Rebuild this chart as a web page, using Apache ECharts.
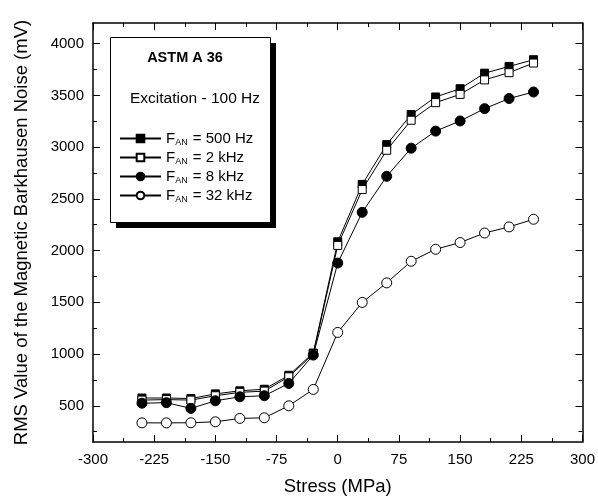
<!DOCTYPE html>
<html>
<head>
<meta charset="utf-8">
<script src="https://cdn.jsdelivr.net/npm/echarts@6/dist/echarts.min.js"></script>
<style>html,body{margin:0;padding:0;background:#fff;}#c{width:598px;height:502px;}</style>
</head>
<body>
<div id="c"></div>
<script>
var stress = [-240, -210, -180, -150, -120, -90, -60, -30, 0, 30, 60, 90, 120, 150, 180, 210, 240];
var f500 = [575, 575, 570, 615, 645, 660, 795, 1010, 2085, 2640, 3025, 3315, 3485, 3565, 3715, 3780, 3845];
var f2k  = [555, 560, 555, 597, 630, 642, 780, 1000, 2050, 2590, 2970, 3260, 3430, 3510, 3650, 3720, 3813];
var f8k  = [525, 530, 475, 548, 587, 597, 716, 990, 1880, 2370, 2718, 2990, 3155, 3253, 3372, 3470, 3533];
var f32k = [335, 335, 336, 345, 378, 384, 500, 658, 1209, 1499, 1688, 1897, 2013, 2078, 2170, 2229, 2303];
var seriesNames = ['500 Hz', '2 kHz', '8 kHz', '32 kHz'];
var yMajor = [500, 1000, 1500, 2000, 2500, 3000, 3500, 4000];
var yMinor = [250, 750, 1250, 1750, 2250, 2750, 3250, 3750];

var FONT = "'Liberation Sans', Arial, Helvetica, sans-serif";
function pairs(ys) { return stress.map(function (x, i) { return [x, ys[i]]; }); }

var chart = echarts.init(document.getElementById('c'), null, {renderer: 'canvas'});
var yBase = {type: 'value', min: 150, max: 4200, splitLine: {show: false}};
function yAx(pos, vals, len, labels, line) {
  return Object.assign({}, yBase, {
    position: pos,
    axisLine: {show: line, onZero: false, lineStyle: {color: '#000', width: 1.5}},
    axisTick: {show: true, inside: true, length: len, customValues: vals, lineStyle: {color: '#000', width: 1}},
    axisLabel: labels ? {show: true, customValues: vals, color: '#000', fontSize: 15, fontFamily: FONT, margin: 9,
      formatter: function (v) { return String(v); }} : {show: false}
  });
}
var yAxes = [
  Object.assign(yAx('left', yMajor, 7, true, true), {
    name: 'RMS Value of the Magnetic Barkhausen Noise (mV)', nameLocation: 'middle', nameGap: 62,
    nameTextStyle: {color: '#000', fontSize: 18.5, fontFamily: FONT}
  }),
  yAx('left', yMinor, 4, false, false),
  yAx('right', yMajor, 7, false, true),
  yAx('right', yMinor, 4, false, false)
];
function xAx(pos, labels) {
  return {
    type: 'value', position: pos, min: -300, max: 300, interval: 75,
    splitLine: {show: false},
    axisLine: {show: true, onZero: false, lineStyle: {color: '#000', width: 1.5}},
    axisTick: {show: true, inside: true, length: 7, lineStyle: {color: '#000', width: 1}},
    minorTick: {show: true, splitNumber: 2, length: 4, lineStyle: {color: '#000', width: 1}},
    minorSplitLine: {show: false},
    axisLabel: labels ? {show: true, color: '#000', fontSize: 15, fontFamily: FONT, margin: 10,
      formatter: function (v) { return String(v); }} : {show: false}
  };
}
var xAxes = [
  Object.assign(xAx('bottom', true), {
    name: 'Stress (MPa)', nameLocation: 'middle', nameGap: 35,
    nameTextStyle: {color: '#000', fontSize: 18.5, fontFamily: FONT}
  }),
  xAx('top', false)
];

var styles = [
  {symbol: 'rect', size: 8, fill: '#000'},
  {symbol: 'rect', size: 8, fill: '#fff'},
  {symbol: 'circle', size: 10, fill: '#000'},
  {symbol: 'circle', size: 10, fill: '#fff'}
];
var datas = [f500, f2k, f8k, f32k];
var series = datas.map(function (d, i) {
  return {
    name: seriesNames[i], type: 'line', xAxisIndex: 0, yAxisIndex: 0,
    data: pairs(d), symbol: styles[i].symbol, symbolSize: styles[i].size, showAllSymbol: true,
    lineStyle: {color: '#000', width: 1},
    itemStyle: {color: styles[i].fill, borderColor: '#000', borderWidth: 1, opacity: 1},
    emphasis: {disabled: true}, animation: false, z: 2 + i
  };
});

chart.setOption({
  animation: false,
  backgroundColor: '#fff',
  grid: {left: 93, right: 14, top: 23, bottom: 60, containLabel: false},
  xAxis: xAxes,
  yAxis: yAxes,
  graphic: [
    {type: 'rect', z: 10, shape: {x: 116, y: 43, width: 160, height: 185}, style: {fill: '#000', stroke: null}},
    {type: 'rect', z: 11, shape: {x: 110.5, y: 37.5, width: 160, height: 185}, style: {fill: '#fff', stroke: '#000', lineWidth: 1}},
    {type: 'text', z: 12, x: 185, y: 58, style: {text: 'ASTM A 36', font: 'bold 14.5px ' + FONT, fill: '#000', textAlign: 'center', textVerticalAlign: 'middle'}},
    {type: 'text', z: 12, x: 195, y: 99, style: {text: 'Excitation - 100 Hz', font: '15.5px ' + FONT, fill: '#000', textAlign: 'center', textVerticalAlign: 'middle'}}
  ],
  legend: {
    z: 20, orient: 'vertical', left: 119, top: 130, padding: 0, itemGap: 2,
    itemWidth: 41, itemHeight: 9.5, selectedMode: false,
    data: seriesNames,
    formatter: function (name) { return '{f|F}{s|AN}{f| = ' + name + '}'; },
    textStyle: {
      color: '#000', fontFamily: FONT, fontSize: 15,
      rich: {
        f: {fontSize: 15, fontFamily: FONT, color: '#000', lineHeight: 16, padding: [0, 0, 0, 0]},
        s: {fontSize: 9, fontFamily: FONT, color: '#000', lineHeight: 16, padding: [8, 1, 0, 0]}
      }
    }
  },
  series: series
});
</script>
</body>
</html>
